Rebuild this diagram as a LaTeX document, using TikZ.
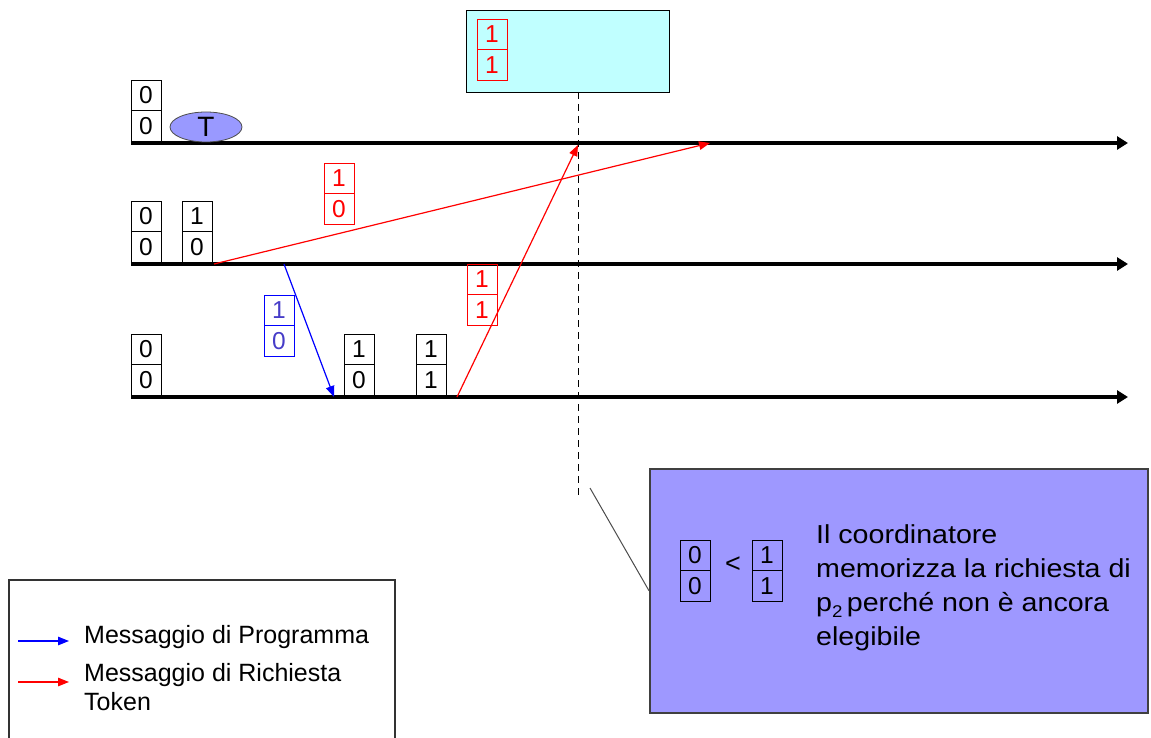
\documentclass[tikz,border=0pt]{standalone}
\usepackage{fontspec}
\setmainfont{Liberation Sans}
\newfontfamily\notefont[FakeStretch=1.1]{Liberation Sans}
\usetikzlibrary{arrows.meta,shapes.geometric}
\definecolor{cyanfill}{RGB}{192,255,255}
\definecolor{lilac}{RGB}{158,152,255}
\definecolor{ellfill}{RGB}{153,153,255}
\definecolor{msgblue}{RGB}{0,0,255}
\definecolor{bluetxt}{RGB}{70,60,200}
\definecolor{msgred}{RGB}{255,0,0}
\tikzset{
  cell/.style={draw, minimum width=30pt, minimum height=30.5pt, inner sep=0pt, outer sep=0pt,
    line width=0.9pt, font=\fontsize{24.5}{24}\selectfont},
  axis/.style={line width=4pt, -{Triangle[length=11pt,width=13pt]}},
  redmsg/.style={draw=msgred, line width=1.2pt, -{Triangle[length=11pt,width=8.5pt]}},
  bluemsg/.style={draw=msgblue, line width=1.2pt, -{Triangle[length=11pt,width=8.5pt]}},
  txt/.style={inner sep=0pt, anchor=base west, font=\fontsize{25}{30}\selectfont},
  notetxt/.style={inner sep=0pt, anchor=base west, font=\notefont\fontsize{26}{34}\selectfont},
}
% name, x-left, y-bottom, top, bottom, border colour, text colour
\newcommand\mkstack[7]{%
  \node[cell, anchor=south west, draw=#6, text=#7] (#1b) at (#2,#3) {#5};
  \node[cell, anchor=south west, draw=#6, text=#7] (#1t) at (#1b.north west) {#4};
}
\begin{document}
\begin{tikzpicture}[x=1pt,y=-1pt]
\useasboundingbox (0,0) rectangle (1151,738);

% coordinator box
\node[draw=black, line width=1.2pt, fill=cyanfill, minimum width=203pt, minimum height=82pt,
  anchor=north west, inner sep=0pt] (coord) at (466,10) {};
\mkstack{cs}{477}{80}{1}{1}{msgred}{msgred}

% process axes
\coordinate (a1s) at (131,143); \coordinate (a1e) at (1128,143);
\coordinate (a2s) at (131,264); \coordinate (a2e) at (1128,264);
\coordinate (a3s) at (131,397); \coordinate (a3e) at (1128,397);
\draw[axis] (a1s) -- (a1e);
\draw[axis] (a2s) -- (a2e);
\draw[axis] (a3s) -- (a3e);

% stacks on axes
\mkstack{p1a}{131}{141}{0}{0}{black}{black}
\node[draw=black!70, line width=0.8pt, fill=ellfill, ellipse, minimum width=72pt, minimum height=30pt,
  inner sep=0pt, font=\fontsize{28}{28}\selectfont] (tok) at (206,127) {T};
\mkstack{p2a}{131}{262}{0}{0}{black}{black}
\mkstack{p2b}{182}{262}{1}{0}{black}{black}
\mkstack{p3a}{131}{395}{0}{0}{black}{black}
\mkstack{p3b}{344}{395}{1}{0}{black}{black}
\mkstack{p3c}{416}{395}{1}{1}{black}{black}

% dashed line
\coordinate (dtop) at (578,92);
\coordinate (dbot) at (578,498);
\draw[dashed, line width=1pt, dash pattern=on 7pt off 5pt] (dtop) -- (dbot);

% messages
\coordinate (r1s) at (214,264); \coordinate (r1e) at (710,143);
\coordinate (r2s) at (457,397); \coordinate (r2e) at (578,145);
\coordinate (b1s) at (284,264); \coordinate (b1e) at (334,397);
\draw[redmsg] (r1s) -- (r1e);
\draw[redmsg] (r2s) -- (r2e);
\draw[bluemsg] (b1s) -- (b1e);
\mkstack{lr1}{324}{224}{1}{0}{msgred}{msgred}
\mkstack{lr2}{467}{325}{1}{1}{msgred}{msgred}
\mkstack{lb1}{264}{356}{1}{0}{msgblue}{bluetxt}

% note box
\node[draw=black!75, line width=1.5pt, fill=lilac, minimum width=498pt, minimum height=244pt,
  anchor=north west, inner sep=0pt] (note) at (649,468) {};
\coordinate (lead) at (590,488);
\draw[black!70, line width=1pt] (lead) -- (note.west);
\mkstack{n1}{680}{601}{0}{0}{black}{black}
\mkstack{n2}{752}{601}{1}{1}{black}{black}
\node[inner sep=0pt, font=\fontsize{27}{27}\selectfont] (lt) at (733,565) {<};
\node[notetxt] (nt1) at (816,543) {Il coordinatore};
\node[notetxt] (nt2) at (816,577) {memorizza la richiesta di};
\node[notetxt] (nt3) at (816,611) {p\raisebox{-6pt}{\fontsize{17}{17}\selectfont 2}\,perché non è ancora};
\node[notetxt] (nt4) at (816,645) {elegibile};

% legend
\draw[black!80, line width=1.2pt] (9,745) -- (9,580) -- (395,580) -- (395,745);
\coordinate (lb1) at (18,641); \coordinate (lb2) at (69,641);
\coordinate (lr1a) at (18,682); \coordinate (lr2a) at (69,682);
\draw[bluemsg] (lb1) -- (lb2);
\draw[redmsg] (lr1a) -- (lr2a);
\node[txt] (l1) at (84,643) {Messaggio di Programma};
\node[txt] (l2) at (84,681) {Messaggio di Richiesta};
\node[txt] (l3) at (84,710) {Token};
\end{tikzpicture}
\end{document}
